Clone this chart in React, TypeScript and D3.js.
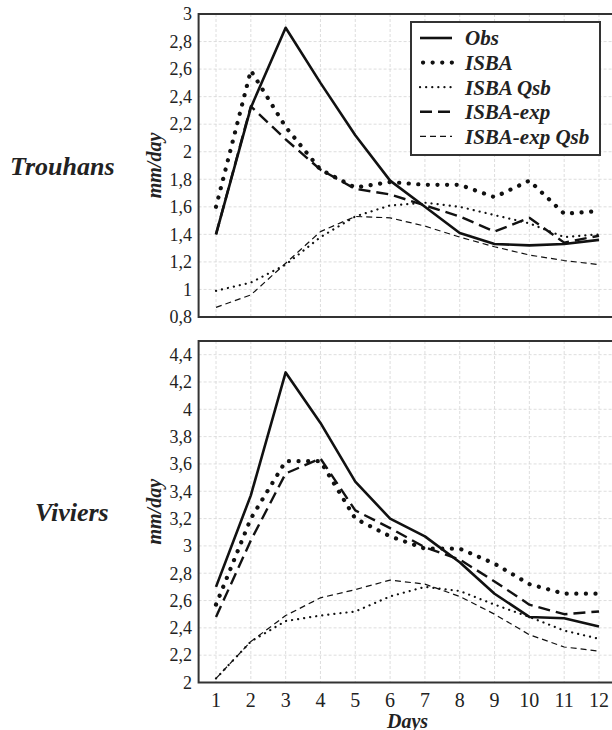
import React from "react";
import * as d3 from "d3";

// Days of the recession period
const days = [1, 2, 3, 4, 5, 6, 7, 8, 9, 10, 11, 12];

// Trouhans (mm/day)
const trouhansObs = [1.4, 2.32, 2.9, 2.5, 2.12, 1.79, 1.6, 1.41, 1.33, 1.32, 1.33, 1.36];
const trouhansIsba = [1.6, 2.59, 2.18, 1.87, 1.74, 1.78, 1.76, 1.76, 1.67, 1.79, 1.55, 1.57];
const trouhansIsbaQsb = [0.99, 1.05, 1.18, 1.38, 1.53, 1.61, 1.63, 1.6, 1.54, 1.48, 1.38, 1.4];
const trouhansIsbaExp = [1.4, 2.33, 2.09, 1.87, 1.73, 1.69, 1.61, 1.53, 1.42, 1.52, 1.34, 1.39];
const trouhansIsbaExpQsb = [0.87, 0.96, 1.19, 1.42, 1.53, 1.52, 1.46, 1.38, 1.31, 1.25, 1.21, 1.18];

// Viviers (mm/day)
const viviersObs = [2.7, 3.37, 4.27, 3.9, 3.47, 3.2, 3.07, 2.88, 2.65, 2.48, 2.47, 2.41];
const viviersIsba = [2.57, 3.2, 3.62, 3.62, 3.2, 3.07, 2.98, 2.98, 2.87, 2.72, 2.65, 2.65];
const viviersIsbaQsb = [2.03, 2.3, 2.45, 2.49, 2.52, 2.63, 2.7, 2.67, 2.57, 2.48, 2.38, 2.32];
const viviersIsbaExp = [2.48, 3.04, 3.53, 3.64, 3.26, 3.13, 2.99, 2.9, 2.74, 2.57, 2.5, 2.52];
const viviersIsbaExpQsb = [2.03, 2.3, 2.49, 2.62, 2.68, 2.75, 2.72, 2.63, 2.5, 2.35, 2.26, 2.23];

const trouhansTicks = [0.8, 1, 1.2, 1.4, 1.6, 1.8, 2, 2.2, 2.4, 2.6, 2.8, 3];
const viviersTicks = [2, 2.2, 2.4, 2.6, 2.8, 3, 3.2, 3.4, 3.6, 3.8, 4, 4.2, 4.4];

const seriesNames = ["Obs", "ISBA", "ISBA Qsb", "ISBA-exp", "ISBA-exp Qsb"];

type LineStyle = { width: number; dash: string; cap: "butt" | "round" };
const styles: LineStyle[] = [
  { width: 2.6, dash: "none", cap: "butt" },
  { width: 4.2, dash: "0.1 9.5", cap: "round" },
  { width: 2.2, dash: "0.1 6", cap: "round" },
  { width: 2.4, dash: "12 6", cap: "butt" },
  { width: 1.2, dash: "6 4", cap: "butt" },
];

const FONT = "Liberation Serif";

const fmt = (v: number) =>
  Math.abs(v - Math.round(v)) < 1e-9 ? String(Math.round(v)) : v.toFixed(1).replace(".", ",");

const x = d3.scaleLinear().domain([0.5, 12.5]).range([198.6, 616.4]);

function Panel({
  name,
  nameX,
  series,
  domain,
  ticks,
  top,
  bottom,
  showX,
  legend,
}: {
  name: string;
  nameX: number;
  series: number[][];
  domain: [number, number];
  ticks: number[];
  top: number;
  bottom: number;
  showX: boolean;
  legend: boolean;
}) {
  const y = d3.scaleLinear().domain(domain).range([bottom, top]);
  const line = d3
    .line<number>()
    .x((_, i) => x(days[i]))
    .y((v) => y(v));
  const left = x(0.5);
  const right = x(12.5);
  const mid = (top + bottom) / 2;
  return (
    <g>
      {/* grid */}
      {days.map((d) => (
        <line key={"gx" + d} x1={x(d)} x2={x(d)} y1={top} y2={bottom} stroke="#d6d6d6" strokeWidth={0.8} strokeDasharray="3 2" />
      ))}
      {ticks.map((t) => (
        <line key={"gy" + t} x1={left} x2={right} y1={y(t)} y2={y(t)} stroke="#d6d6d6" strokeWidth={0.8} strokeDasharray="3 2" />
      ))}
      {/* frame */}
      <rect x={left} y={top} width={right - left} height={bottom - top} fill="none" stroke="#333" strokeWidth={2} />
      {/* y tick labels */}
      {ticks.map((t) => (
        <text key={"ty" + t} x={192} y={y(t)} dy="0.35em" textAnchor="end" fontFamily={FONT} fontSize={18} fill="#222">
          {fmt(t)}
        </text>
      ))}
      <text
        transform={`translate(161,${mid}) rotate(-90)`}
        textAnchor="middle"
        fontFamily={FONT}
        fontSize={20}
        fontWeight="bold"
        fontStyle="italic"
        fill="#222"
      >
        mm/day
      </text>
      <text x={nameX} y={mid + 9} fontFamily={FONT} fontSize={26} fontWeight="bold" fontStyle="italic" fill="#222">
        {name}
      </text>
      {/* series */}
      {series.map((s, i) => (
        <path
          key={"s" + i}
          d={line(s) || ""}
          fill="none"
          stroke="#111"
          strokeWidth={styles[i].width}
          strokeDasharray={styles[i].dash}
          strokeLinecap={styles[i].cap}
          strokeLinejoin="round"
        />
      ))}
      {showX && (
        <g>
          {days.map((d) => (
            <text key={"tx" + d} x={x(d)} y={bottom + 17} dy="0.35em" textAnchor="middle" fontFamily={FONT} fontSize={20} fill="#222">
              {d}
            </text>
          ))}
          <text x={x(6.5)} y={bottom + 45} textAnchor="middle" fontFamily={FONT} fontSize={20} fontWeight="bold" fontStyle="italic" fill="#222">
            Days
          </text>
        </g>
      )}
      {legend && (
        <g>
          <rect x={411} y={22} width={189} height={133} fill="#fff" stroke="#333" strokeWidth={2} />
          {seriesNames.map((n, i) => {
            const ly = 38 + i * 24.6;
            return (
              <g key={"l" + n}>
                <line
                  x1={i === 1 ? 423 : 420}
                  x2={452}
                  y1={ly}
                  y2={ly}
                  stroke="#111"
                  strokeWidth={styles[i].width}
                  strokeDasharray={styles[i].dash}
                  strokeLinecap={styles[i].cap}
                />
                <text x={465} y={ly} dy="0.35em" fontFamily={FONT} fontSize={21} fontWeight="bold" fontStyle="italic" fill="#222">
                  {n}
                </text>
              </g>
            );
          })}
        </g>
      )}
    </g>
  );
}

export default function App() {
  return (
    <svg width={612} height={730} style={{ position: "absolute", left: 0, top: 0, background: "#fff" }}>
      <Panel
        name="Trouhans"
        nameX={10}
        series={[trouhansObs, trouhansIsba, trouhansIsbaQsb, trouhansIsbaExp, trouhansIsbaExpQsb]}
        domain={[0.8, 3]}
        ticks={trouhansTicks}
        top={14}
        bottom={317}
        showX={false}
        legend={true}
      />
      <Panel
        name="Viviers"
        nameX={35}
        series={[viviersObs, viviersIsba, viviersIsbaQsb, viviersIsbaExp, viviersIsbaExpQsb]}
        domain={[2, 4.5]}
        ticks={viviersTicks}
        top={341}
        bottom={682.5}
        showX={true}
        legend={false}
      />
    </svg>
  );
}
